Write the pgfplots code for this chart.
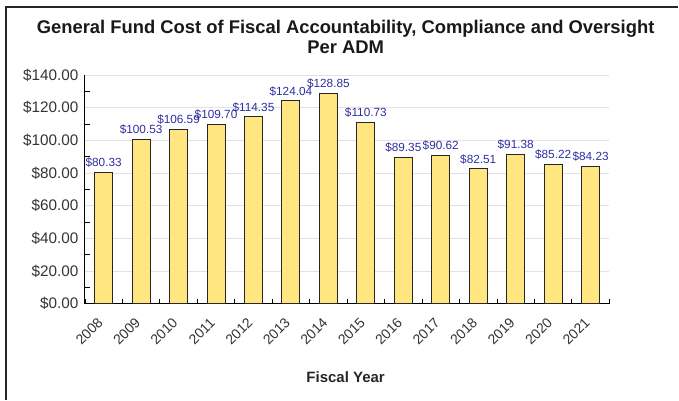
\documentclass[border=0pt]{standalone}
\usepackage{fontspec}
\setmainfont{Liberation Sans}
\usepackage{pgfplots}
\pgfplotsset{compat=1.18}

\definecolor{barfill}{HTML}{FFE680}
\definecolor{lblblue}{HTML}{2E2EA3}
\definecolor{txtgray}{HTML}{333333}
\definecolor{gridgray}{HTML}{E2E2E2}

\begin{document}
\begin{tikzpicture}[x=1pt,y=1pt]
\path (0,0) rectangle (679,400);
% frame
\draw[line width=1.5pt, black!85] (6,0) -- (6,393) -- (679,393);
% title
\node[align=center, font=\fontsize{18.4}{20}\selectfont\bfseries, text=black!90] at (346,363)
  {General Fund Cost of Fiscal Accountability, Compliance and Oversight\\Per ADM};
\node[font=\fontsize{15}{17}\selectfont\bfseries, text=black!85] at (346,22) {Fiscal Year};

\begin{axis}[
    at={(85pt,96pt)}, anchor=south west,
    scale only axis,
    width=525pt, height=229pt,
    ybar, bar width=18pt, bar shift=0pt,
    xmin=-0.5, xmax=13.5,
    ymin=0, ymax=140,
    axis x line*=bottom, axis y line*=left,
    axis line style={black, line width=0.9pt, -},
    xtick={0,...,13},
    xticklabels={2008,2009,2010,2011,2012,2013,2014,2015,2016,2017,2018,2019,2020,2021},
    minor xtick={-0.5,0.5,...,13.5},
    ytick={0,20,...,140},
    minor ytick={10,30,...,130},
    tick align=inside,
    major tick length=0pt,
    minor tick length=5pt,
    tick style={black, line width=0.8pt},
    ymajorgrids,
    major grid style={gridgray, line width=0.8pt},
    /pgf/number format/assume math mode=true,
    yticklabel={\$\pgfmathprintnumber[fixed,fixed zerofill,precision=2]{\tick}},
    yticklabel style={font=\fontsize{15.3}{17}\selectfont, text=txtgray, xshift=-3pt},
    xticklabel style={font=\fontsize{14}{16}\selectfont, text=txtgray, xshift=-7pt, yshift=-13pt, rotate=45, anchor=north east, inner sep=0pt},
    nodes near coords={\$\pgfmathprintnumber[fixed,fixed zerofill,precision=2]{\pgfplotspointmeta}},
    nodes near coords style={font=\fontsize{11.8}{13}\selectfont, text=lblblue, anchor=south, inner sep=1pt, yshift=3.5pt},
]
\addplot[fill=barfill, draw=black!85, line width=1pt] coordinates {
    (0,80.33) (1,100.53) (2,106.59) (3,109.70) (4,114.35) (5,124.04) (6,128.85)
    (7,110.73) (8,89.35) (9,90.62) (10,82.51) (11,91.38) (12,85.22) (13,84.23)
};
\end{axis}
\end{tikzpicture}
\end{document}
